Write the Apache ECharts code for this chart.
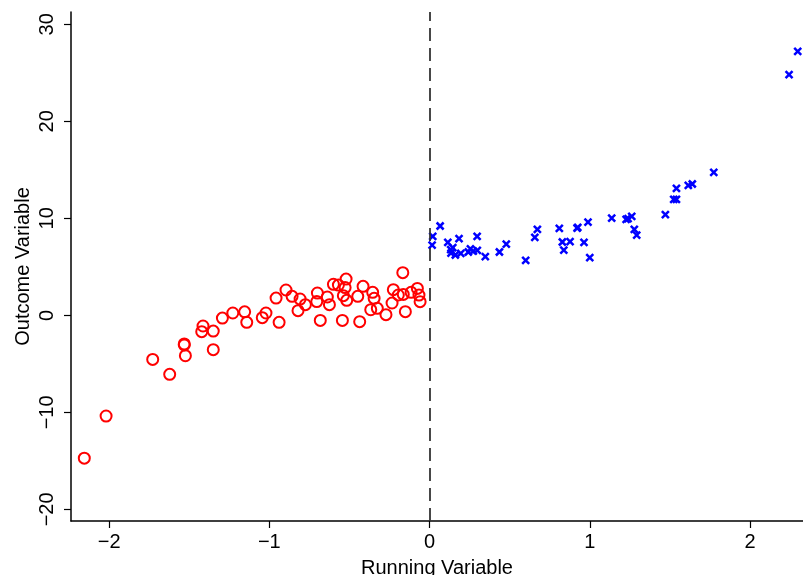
<!DOCTYPE html>
<html>
<head>
<meta charset="utf-8">
<script src="https://cdn.jsdelivr.net/npm/echarts@6/dist/echarts.min.js"></script>
<style>html,body{margin:0;padding:0;background:#fff;overflow:hidden}#c{width:803px;height:575px}</style>
</head>
<body>
<div id="c"></div>
<script>
var xTicks = [-2, -1, 0, 1, 2];
var yTicks = [-20, -10, 0, 10, 20, 30];
var cutoff = 0;

var redX = [-2.155,-2.019,-1.728,-1.622,-1.531,-1.531,-1.524,-1.414,-1.422,-1.350,-1.350,-1.293,-1.228,-1.154,-1.141,-1.044,-1.021,-0.958,-0.939,-0.896,-0.858,-0.808,-0.775,-0.821,-0.700,-0.704,-0.638,-0.625,-0.682,-0.600,-0.569,-0.521,-0.527,-0.538,-0.517,-0.544,-0.448,-0.415,-0.436,-0.355,-0.346,-0.367,-0.326,-0.272,-0.226,-0.234,-0.167,-0.195,-0.164,-0.151,-0.115,-0.076,-0.066,-0.059];
var redY = [-14.72,-10.38,-4.54,-6.08,-2.95,-3.05,-4.16,-1.10,-1.68,-1.62,-3.54,-0.28,0.24,0.36,-0.72,-0.24,0.24,1.78,-0.72,2.61,1.96,1.68,1.10,0.48,2.30,1.42,1.89,1.10,-0.52,3.20,3.12,3.74,2.86,2.03,1.55,-0.52,1.96,2.99,-0.65,2.37,1.75,0.58,0.72,0.07,2.65,1.27,4.40,2.10,2.16,0.38,2.37,2.78,2.09,1.41];

var blueX = [0.020,0.016,0.066,0.114,0.132,0.145,0.134,0.161,0.184,0.195,0.242,0.255,0.273,0.297,0.298,0.348,0.436,0.479,0.600,0.657,0.673,0.810,0.829,0.838,0.877,0.921,0.925,0.964,0.989,1.000,1.137,1.227,1.239,1.262,1.278,1.293,1.472,1.524,1.541,1.541,1.615,1.640,1.774,2.244,2.298];
var blueY = [8.14,7.25,9.21,7.53,6.77,6.98,6.42,6.22,7.91,6.39,6.53,6.84,6.63,8.14,6.70,6.05,6.53,7.35,5.67,8.04,8.87,8.97,7.56,6.73,7.60,9.00,9.07,7.53,9.62,5.95,10.03,9.90,9.97,10.21,8.87,8.28,10.38,11.96,11.96,13.09,13.40,13.54,14.74,24.81,27.22];

function zip(a, b) { return a.map(function (v, i) { return [v, b[i]]; }); }
function fmt(v) { return String(v).replace('-', '\u2212'); }

var FONT = 'Liberation Sans';
var chart = echarts.init(document.getElementById('c'), null, { renderer: 'canvas' });
chart.setOption({
  animation: false,
  backgroundColor: '#ffffff',
  grid: { left: 71, top: 12, right: 0, bottom: 54, containLabel: false, outerBoundsMode: 'none' },
  xAxis: {
    type: 'value', min: -2.238, max: 2.331,
    name: 'Running Variable', nameLocation: 'middle', nameGap: 37, nameMoveOverlap: false,
    nameTextStyle: { fontFamily: FONT, fontSize: 20, color: '#000' },
    axisLine: { show: true, onZero: false, lineStyle: { color: '#000', width: 1.5 } },
    axisTick: { show: true, length: 7, customValues: xTicks, lineStyle: { color: '#000', width: 1.2 } },
    axisLabel: { customValues: xTicks, margin: 11, fontFamily: FONT, fontSize: 20, color: '#000', formatter: fmt },
    splitLine: { show: false }
  },
  yAxis: {
    type: 'value', min: -21.2, max: 31.27,
    name: 'Outcome Variable', nameLocation: 'middle', nameGap: 38, nameRotate: 90, nameMoveOverlap: false,
    nameTextStyle: { fontFamily: FONT, fontSize: 20, color: '#000' },
    axisLine: { show: true, onZero: false, lineStyle: { color: '#000', width: 1.5 } },
    axisTick: { show: true, length: 7, customValues: yTicks, lineStyle: { color: '#000', width: 1.2 } },
    axisLabel: { customValues: yTicks, rotate: 90, margin: 14, fontFamily: FONT, fontSize: 20, color: '#000', formatter: fmt },
    splitLine: { show: false }
  },
  series: [
    {
      type: 'scatter', data: zip(redX, redY), symbol: 'circle', symbolSize: 11,
      itemStyle: { color: 'rgba(0,0,0,0)', borderColor: '#ff0000', borderWidth: 2, opacity: 1 },
      markLine: {
        silent: true, symbol: ['none', 'none'], label: { show: false },
        lineStyle: { color: '#333', width: 1.8, type: [13, 7] },
        data: [{ xAxis: cutoff }]
      }
    },
    {
      type: 'scatter', data: zip(blueX, blueY), symbol: 'path://M0,0L10,10M10,0L0,10', symbolSize: 7,
      itemStyle: { color: 'none', borderColor: '#0000ff', borderWidth: 2.5, opacity: 1 }
    }
  ]
});
</script>
</body>
</html>
